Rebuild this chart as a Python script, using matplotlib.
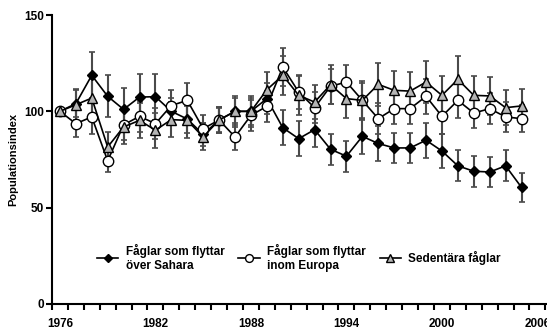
import numpy as np
import matplotlib
matplotlib.use("Agg")
import matplotlib.pyplot as plt

plt.rcParams['font.family'] = ['Liberation Sans', 'DejaVu Sans']
plt.rcParams['font.weight'] = 'bold'

years = list(range(1976, 2006))

# Fåglar som flyttar över Sahara
sahara = [100, 104, 118.7, 107.8, 101, 107.4, 107.6, 100, 96, 88, 95.5, 100, 100, 106.6, 91.5,
          85.8, 90.5, 80.3, 76.7, 87, 83.3, 81, 81, 85, 79.4, 71.7, 68.9, 68.5, 71.7, 60.5]
sahara_err = [0, 7, 12, 11, 11, 12, 12, 7, 7, 6, 6, 7, 7, 8, 9,
              9, 9, 8, 8, 9, 9, 8, 8, 9, 9, 8, 8, 8, 8, 7.5]

# Fåglar som flyttar inom Europa
europa = [100, 93.6, 97.1, 74.3, 93, 97.4, 93.6, 103, 105.7, 91, 95.5, 86.7, 97.9, 102.6, 123,
          110, 101.9, 113, 115.2, 105.7, 96.2, 101.4, 101.4, 107.8, 97.4, 105.7, 99.1, 101.4, 97.1, 96.2]
europa_err = [0, 7, 9, 6, 8, 8, 8, 8, 9, 7, 7, 7, 8, 8, 10,
              9, 8, 9, 9, 9, 8, 8, 8, 9, 9, 9, 8, 8, 8, 7]

# Sedentära fåglar
sedentar = [100, 103.4, 106.9, 81.5, 91.9, 95.3, 90.2, 95.7, 95.3, 86.7, 95.5, 100, 100, 111.2, 118.7,
            108.3, 104.8, 113.8, 106.6, 105.7, 114, 110.9, 110.5, 115.2, 108.3, 116.6, 108.3, 108, 101.9, 102.8]
sedentar_err = [0, 8, 10, 8, 9, 9, 9, 9, 9, 7, 7, 8, 8, 9, 10,
                10, 9, 10, 10, 10, 11, 10, 10, 11, 10, 12, 10, 10, 9, 9]

labels = ["Fåglar som flyttar\növer Sahara", "Fåglar som flyttar\ninom Europa", "Sedentära fåglar"]

fig = plt.figure(figsize=(5.47, 3.34), dpi=100)
ax = fig.add_axes([0.095, 0.09, 0.905, 0.865])

err_kw = dict(ecolor='#4a4a4a', elinewidth=1.5, capsize=2.5, capthick=1.2)
ax.errorbar(years, sedentar, yerr=sedentar_err, fmt='none', zorder=1, **err_kw)
ax.errorbar(years, europa, yerr=europa_err, fmt='none', zorder=1, **err_kw)
ax.errorbar(years, sahara, yerr=sahara_err, fmt='none', zorder=1, **err_kw)

l1, = ax.plot(years, sahara, '-', color='black', lw=1.2, marker='D', ms=5.5,
              mfc='black', mec='black', zorder=3)
l2, = ax.plot(years, europa, '-', color='black', lw=1.2, marker='o', ms=7.5,
              mfc='white', mec='black', mew=1.0, zorder=4)
l3, = ax.plot(years, sedentar, '-', color='black', lw=1.2, marker='^', ms=7.5,
              mfc='#b4b4b4', mec='black', mew=1.0, zorder=5)

ax.set_xlim(1975.5, 2006.6)
ax.set_ylim(0, 150)
ax.set_yticks([0, 50, 100, 150])
ax.set_xticks([1976, 1982, 1988, 1994, 2000, 2006])
ax.set_xticks(np.arange(1975.5, 2007, 1), minor=True)
ax.tick_params(axis='x', which='major', length=0, pad=10, labelsize=8.5)
ax.tick_params(axis='x', which='minor', length=4, width=1.5, direction='out')
ax.tick_params(axis='y', length=4, width=1.5, labelsize=8.5, pad=2)
for s in ['top', 'right']:
    ax.spines[s].set_visible(False)
for s in ['left', 'bottom']:
    ax.spines[s].set_linewidth(1.5)
ax.set_ylabel('Populationsindex', fontsize=8, fontweight='bold', labelpad=4)

ax.legend([l1, l2, l3], labels, loc='upper left', bbox_to_anchor=(0.07, 0.245),
          ncol=3, frameon=False, fontsize=8.5, handlelength=1.8, columnspacing=1.2,
          handletextpad=0.6, markerscale=0.75)

fig.savefig('out.png', dpi=100)
